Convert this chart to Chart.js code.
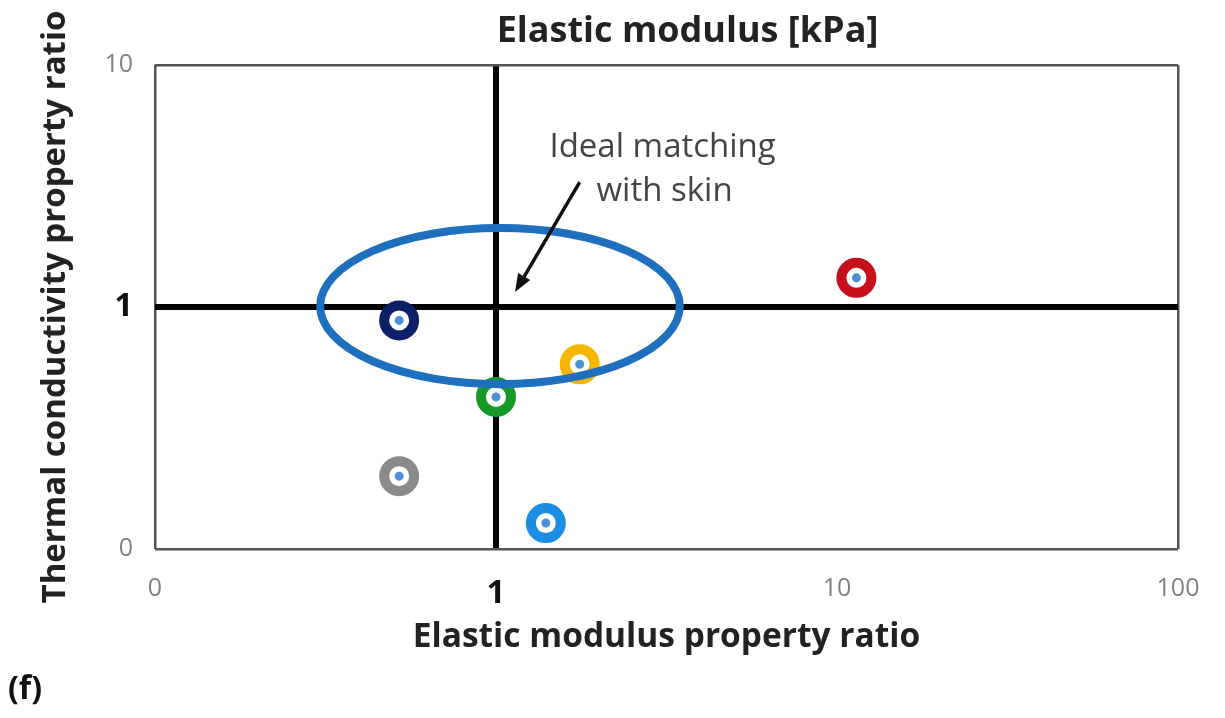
<!DOCTYPE html>
<html>
<head>
<meta charset="utf-8">
<script src="https://cdn.jsdelivr.net/npm/chart.js@4"></script>
<style>
  html, body { margin: 0; padding: 0; background: #fff; }
  #wrap { width: 1225px; height: 718px; position: relative; }
</style>
</head>
<body>
<div id="wrap"><canvas id="c"></canvas></div>
<script>
// Property ratios of each material relative to skin
const elasticRatio = [0.52, 1.76, 1.0, 0.52, 1.40, 11.4];
const thermalRatio = [0.88, 0.58, 0.425, 0.20, 0.128, 1.32];
const ringColors   = ['#0d1f66', '#f7b500', '#16982b', '#8a8a8a', '#1b8de3', '#c8101c'];

// Axis ticks and their printed labels
const xTickValues = [0.1, 1, 10, 100];
const xTickLabels = ['0', '1', '10', '100'];
const yTickValues = [0.1, 1, 10];
const yTickLabels = ['0', '1', '10'];

// "Ideal matching" region and callout, in data units
const skinMatchX = [0.305, 3.46];
const skinMatchY = [0.48, 2.12];
const calloutTail = [1.76, 3.28];
const calloutTip = [1.137, 1.153];
const calloutAnchor = [3.08, 4.54];
const calloutLines = ['Ideal matching', 'with skin'];

const FONT = '"Open Sans", Lato, sans-serif';
const points = elasticRatio.map((v, i) => ({ x: v, y: thermalRatio[i] }));

const isUnity = ctx => ctx.tick && ctx.tick.value === 1;
const tickFont = ctx => isUnity(ctx)
  ? { family: FONT, size: 33, weight: 'bold' }
  : { family: FONT, size: 25 };
const tickColor = ctx => isUnity(ctx) ? '#111' : '#808080';

// only the frame edges and the unity lines are drawn
const gridStyle = (edges) => ({
  drawTicks: false,
  color: ctx => isUnity(ctx) ? '#000' : (ctx.tick && edges.includes(ctx.tick.value) ? '#555' : 'rgba(0,0,0,0)'),
  lineWidth: ctx => isUnity(ctx) ? 6 : 2.5
});

const overlay = {
  id: 'overlay',
  afterDatasetsDraw(chart) {
    const { ctx, scales: { x, y } } = chart;
    ctx.save();
    // ellipse around the (1, 1) target
    const x0 = x.getPixelForValue(skinMatchX[0]), x1 = x.getPixelForValue(skinMatchX[1]);
    const y0 = y.getPixelForValue(skinMatchY[1]), y1 = y.getPixelForValue(skinMatchY[0]);
    ctx.beginPath();
    ctx.ellipse((x0 + x1) / 2, (y0 + y1) / 2, (x1 - x0) / 2, (y1 - y0) / 2, 0, 0, Math.PI * 2);
    ctx.lineWidth = 8;
    ctx.strokeStyle = '#1f6fbf';
    ctx.stroke();

    // arrow
    const tx = x.getPixelForValue(calloutTail[0]), ty = y.getPixelForValue(calloutTail[1]);
    const hx = x.getPixelForValue(calloutTip[0]), hy = y.getPixelForValue(calloutTip[1]);
    const ang = Math.atan2(hy - ty, hx - tx);
    const headLen = 18, headHalf = 7;
    const bx = hx - headLen * Math.cos(ang), by = hy - headLen * Math.sin(ang);
    ctx.beginPath();
    ctx.moveTo(tx, ty);
    ctx.lineTo(bx, by);
    ctx.lineWidth = 3.5;
    ctx.strokeStyle = '#111';
    ctx.stroke();
    ctx.beginPath();
    ctx.moveTo(hx, hy);
    ctx.lineTo(bx + headHalf * Math.sin(ang), by - headHalf * Math.cos(ang));
    ctx.lineTo(bx - headHalf * Math.sin(ang), by + headHalf * Math.cos(ang));
    ctx.closePath();
    ctx.fillStyle = '#111';
    ctx.fill();

    // callout text
    const cx = x.getPixelForValue(calloutAnchor[0]), cy = y.getPixelForValue(calloutAnchor[1]);
    ctx.font = '33px ' + FONT;
    ctx.fillStyle = '#444';
    ctx.textAlign = 'center';
    ctx.textBaseline = 'middle';
    calloutLines.forEach((t, i) => ctx.fillText(t, cx + i * 2, cy + i * 44));
    ctx.restore();
  },
  afterDraw(chart) {
    const { ctx, chartArea } = chart;
    ctx.save();
    ctx.textAlign = 'center';
    ctx.textBaseline = 'middle';
    ctx.font = 'bold 36px ' + FONT;
    ctx.fillStyle = '#222';
    ctx.fillText('Elastic modulus [kPa]', (chartArea.left + chartArea.right) / 2 + 21, 32);
    ctx.textAlign = 'left';
    ctx.font = 'bold 32px ' + FONT;
    ctx.fillStyle = '#111';
    ctx.fillText('(f)', 8, 690);
    ctx.restore();
  }
};

new Chart(document.getElementById('c'), {
  type: 'scatter',
  data: {
    datasets: [
      {
        data: points,
        pointRadius: 4.5,
        pointBorderWidth: 0,
        pointBackgroundColor: '#4d90d6',
        showLine: false
      },
      {
        data: points,
        pointRadius: 15,
        pointBorderWidth: 10,
        pointBackgroundColor: '#fff',
        pointBorderColor: ringColors,
        showLine: false
      }
    ]
  },
  options: {
    responsive: true,
    maintainAspectRatio: false,
    animation: false,
    events: [],
    layout: { padding: { left: 0, right: 47, top: 65, bottom: 0 } },
    plugins: { legend: { display: false }, tooltip: { enabled: false }, title: { display: false } },
    scales: {
      x: {
        type: 'logarithmic',
        min: 0.1, max: 100,
        afterBuildTicks: s => { s.ticks = xTickValues.map(v => ({ value: v })); },
        afterFit: s => { s.height = 169; },
        border: { display: false },
        grid: gridStyle([0.1, 100]),
        ticks: {
          padding: 25, autoSkip: false, maxRotation: 0,
          callback: v => xTickLabels[xTickValues.indexOf(v)],
          font: tickFont, color: tickColor
        },
        title: {
          display: true, text: 'Elastic modulus property ratio', color: '#222',
          font: { family: FONT, size: 33.5, weight: 'bold' },
          padding: { top: 0, bottom: 60 }
        }
      },
      y: {
        type: 'logarithmic',
        min: 0.1, max: 10,
        afterBuildTicks: s => { s.ticks = yTickValues.map(v => ({ value: v })); },
        afterFit: s => { s.width = 155; },
        border: { display: false },
        grid: gridStyle([0.1, 10]),
        ticks: {
          padding: 22, autoSkip: false,
          callback: v => yTickLabels[yTickValues.indexOf(v)],
          font: tickFont, color: tickColor
        },
        title: {
          display: true, text: 'Thermal conductivity property ratio', color: '#222',
          font: { family: FONT, size: 33, weight: 'bold' },
          padding: { top: 36, bottom: 0 }
        }
      }
    }
  },
  plugins: [overlay]
});
</script>
</body>
</html>
